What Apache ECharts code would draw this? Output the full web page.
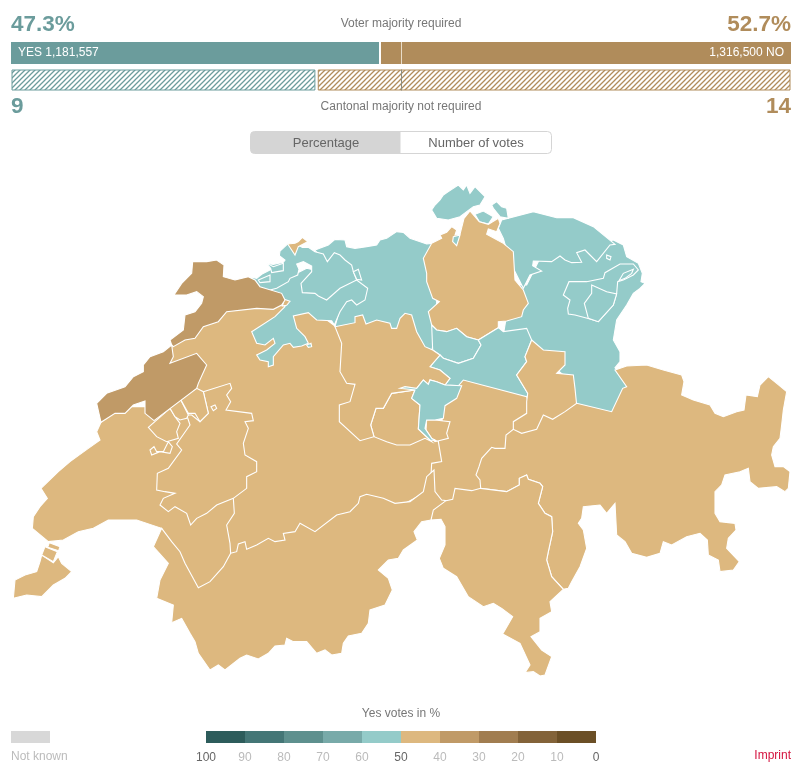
<!DOCTYPE html>
<html>
<head>
<meta charset="utf-8">
<title>Voting result</title>
<script src="https://cdn.jsdelivr.net/npm/echarts@6/dist/echarts.min.js"></script>
<style>
html, body { margin: 0; padding: 0; background: #fff; }
#chart { width: 802px; height: 777px; }
</style>
</head>
<body>
<div id="chart"></div>
<script>
// results
var yesVotes = 1181557;
var noVotes = 1316500;
var yesCantons = 9;
var noCantons = 14;
var yesPercent = '47.3%';
var noPercent = '52.7%';

// yes share per canton, estimated from the colour band
var cantons = ['BE','VD','AG','SG','TG','SH','ZH','ZG','SZ','UR','GL','OW','NW','LU','GR','VS','TI','FR','SO','BL','BS','JU','NE','AR','AI','GE'];
var yesShare = [46,44,54,55,56,53,47,54,55,45,46,47,52,48,45,42,44,45,53,54,47,36,37,54,56,43];

// legend bands, from 100 % to 0 %
var scaleTicks = [100,90,80,70,60,50,40,30,20,10,0];
var scaleColors = ['#2d5c5b','#447676','#5e908e','#78aaa9','#94cbc9','#ddb87f','#c09a67','#a17d50','#836339','#6b4f26'];

// outlines, in 3x crop units, each crop with its own origin
function trace(ox, oy, str) {
    return str.trim().split(/\s+/).map(function (p) {
        var xy = p.split(',');
        return [ox + xy[0] / 3, oy + xy[1] / 3];
    });
}
function z3(s) { return trace(240, 175, s); }
function z4(s) { return trace(0, 250, s); }
function z5(s) { return trace(140, 360, s); }
function z6(s) { return trace(430, 360, s); }

// painted in this order, later parts lie over earlier ones and own the shared border
var mapParts = [
    ['BE', 'BE', z4('516,288 690,150 840,165 921,165 1005,228 1059,294 1071,516 1191,564 1311,564 1359,636 1290,720 900,930 690,945 681,900 645,750 588,420 505,330')],
    ['VD', 'VD', z4('303,517 290,545 300,570 265,595 210,635 175,665 123,715 142,745 120,770 100,800 97,835 145,875 190,870 235,845 280,835 325,810 410,810 485,835 600,1040 700,950 692,912 690,880 680,825 703,790 700,745 640,600 590,425 480,470 380,470 320,490')],
    ['AG', 'AG', z3('575,205 560,207 510,190 490,172 470,170 440,190 420,195 410,210 380,215 345,220 320,215 315,195 285,193 265,210 225,225 280,300 300,400 285,455 330,470 480,480 575,530 590,450 590,300 590,210')],
    ['SG', 'SG', z3('1120,195 1150,210 1160,245 1195,265 1207,295 1203,320 1215,325 1200,340 1180,355 1160,390 1130,435 1120,495 1140,530 1140,560 1125,578 1180,640 1120,740 1000,720 970,600 900,540 850,500 790,480 800,420 830,330 860,330 900,250')],
    ['TG', 'TG', z3('785,135 880,110 950,128 1000,128 1060,155 1125,208 1110,210 1070,260 1050,240 1035,225 1010,233 1025,262 995,263 975,255 960,243 935,260 880,258 878,272 905,288 870,300 850,340 810,260 790,190 775,160')],
    ['TG-loop', 'TG', z3('1100,240 1113,245 1110,255 1100,250')],
    ['SH', 'SH', z3('575,105 585,90 600,75 610,60 625,50 640,40 655,30 670,45 680,30 690,55 705,35 720,50 735,65 720,90 700,95 680,110 660,125 625,135 590,130')],
    ['SH-east', 'SH', z3('755,90 770,80 785,95 800,100 805,130 780,125 760,100')],
    ['SH-lens', 'TG', z3('705,118 730,108 760,125 745,147 718,140')],
    ['ZH', 'ZH', z3('575,205 605,190 600,180 620,172 635,155 650,165 645,180 660,178 672,130 690,108 705,125 718,140 745,148 775,130 780,145 770,170 745,162 740,178 790,205 820,230 825,315 850,345 865,385 850,405 845,425 800,438 775,440 775,458 715,495 680,485 650,460 620,470 590,465 575,450 565,410 598,380 578,370 560,320 560,295 550,250')],
    ['SH-south', 'SH', z3('640,185 660,180 650,212 638,200')],
    ['ZG', 'ZG', z3('575,450 590,465 620,470 650,460 680,485 715,495 723,510 700,550 655,565 610,550 600,540 578,525')],
    ['SZ', 'SZ', z3('600,540 610,550 655,565 700,550 723,510 715,495 775,458 790,470 860,460 875,495 855,545 860,560 830,600 863,655 860,680 805,705 770,670 730,685 677,662 665,632 615,630 630,610 600,585 570,575')],
    ['UR', 'UR', z6('25,245 35,305 5,310 0,400 15,440 60,450 170,400 250,250 280,215 310,170 290,110 100,60 40,130 35,200')],
    ['GL', 'GL', z3('875,495 910,525 975,530 975,570 950,595 1000,600 1005,640 1010,690 1010,740 900,790 820,790 820,765 820,740 860,715 860,680 863,655 830,600 860,560 855,545')],
    ['OW', 'OW', z3('525,645 455,655 430,700 408,700 392,750 402,785 440,800 470,810 510,810 555,790 575,800 535,762 540,690 515,670')],
    ['OW-engelberg', 'OW', z3('560,735 585,735 630,740 620,775 625,790 585,800 575,790 558,765')],
    ['LU', 'LU', z3('285,455 345,443 345,425 368,420 378,447 410,435 450,445 455,460 470,460 480,430 495,415 515,420 530,470 555,515 578,525 600,540 570,575 600,585 630,610 615,630 590,620 570,615 565,628 550,615 530,640 525,645 455,655 430,700 408,700 392,750 402,785 360,797 298,740 298,690 330,680 345,628 320,625 300,590 305,505')],
    ['NW', 'NW', z3('480,640 495,635 530,640 550,615 565,628 570,615 590,620 615,630 665,632 650,670 615,692 610,730 585,735 560,735 555,760 575,790 588,797 570,795 535,762 540,690 515,670 525,645')],
    ['GR', 'GR', z6('440,130 545,155 578,85 590,80 555,30 590,18 650,15 700,30 755,45 762,65 755,105 790,120 840,135 855,160 880,170 920,155 942,150 948,105 982,110 990,75 1015,50 1040,70 1070,95 1060,150 1055,195 1050,235 1030,260 1025,285 1035,320 1060,320 1080,335 1075,385 1065,395 1040,380 985,385 960,365 955,325 930,335 885,345 875,375 855,395 855,460 870,485 915,490 918,510 895,535 890,565 928,605 910,630 870,635 865,600 835,585 832,540 810,520 770,530 725,555 700,545 690,580 650,592 605,580 585,545 560,525 555,430 530,460 510,435 460,440 455,475 445,490 460,510 470,565 450,620 425,665 415,685 400,688 365,650 350,600 355,575 368,515 365,470 345,460 325,430 338,380 330,370 295,358 290,345 268,355 268,375 230,395 152,385 150,360 138,345 147,320 155,295 185,262 195,265 225,265 228,225 250,208 275,220 320,208 340,165 368,178 405,155')],
    ['VS', 'VS', z5('65,505 95,545 120,575 135,610 175,683 210,665 250,620 272,580 290,575 295,552 315,545 320,568 350,555 385,535 405,545 435,540 430,520 465,515 480,490 525,515 590,465 630,455 655,430 660,410 680,403 730,415 765,430 810,425 850,395 860,350 882,330 885,395 905,420 920,422 900,460 873,480 845,485 822,515 832,540 790,570 775,595 745,600 715,630 745,655 757,690 735,735 690,750 685,790 665,820 625,828 610,850 605,880 575,885 555,870 530,880 500,845 460,845 440,835 435,855 405,858 385,880 355,897 320,885 300,895 255,930 235,915 210,930 175,880 165,845 150,820 125,775 95,788 100,735 50,715 60,660 85,610 40,560')],
    ['TI', 'TI', z6('48,422 68,418 75,385 125,392 152,385 230,395 268,375 268,355 290,345 295,358 330,370 338,380 325,430 345,460 365,470 368,515 355,575 350,600 365,650 400,688 360,725 365,755 330,775 330,815 303,830 335,870 365,890 345,945 330,948 310,935 285,938 300,915 270,850 218,822 248,770 215,745 190,730 160,740 115,710 80,650 40,625 28,595 45,555 45,500 33,478 3,480 10,450')],
    ['FR', 'FR', z4('610,425 690,400 695,415 680,435 692,455 678,480 755,490 760,512 735,515 745,535 730,580 735,615 770,635 770,665 740,680 740,715 700,745 650,765 620,790 590,805 572,825 560,790 525,770 505,785 480,765 490,745 525,730 495,725 470,720 472,670 505,655 545,600 530,582 570,525 560,495 575,495 600,515 625,490')],
    ['FR-broye', 'FR', z4('445,532 510,475 525,500 540,520 530,545 535,565 500,575 470,560')],
    ['FR-strip-a', 'FR', z4('510,475 540,445 565,495 560,505 540,510 525,500')],
    ['FR-strip-b', 'FR', z4('540,445 590,415 610,425 625,490 600,515 585,490 565,490')],
    ['FR-enclave-a', 'FR', z4('450,600 462,590 470,605 490,605 505,575 517,590 510,610 480,605 455,615')],
    ['FR-enclave-b', 'FR', z4('633,470 645,465 650,475 640,482')],
    ['SO', 'SO', z3('135,395 105,425 35,470 50,505 75,510 100,490 105,505 80,525 50,540 60,555 85,560 85,575 100,570 100,545 130,510 150,505 160,517 185,513 205,505 195,485 170,460 160,423 205,413 230,435 275,437 283,450 300,410 320,380 335,375 350,390 375,375 383,340 350,315 200,280 120,320 90,350 70,345')],
    ['SO-tiny', 'SO', z3('200,510 213,505 215,515 205,517')],
    ['BE-tip', 'BE', z3('133,373 150,379 140,391 127,393')],
    ['BL', 'BL', z3('225,230 205,217 187,217 175,210 145,205 120,228 118,242 135,255 130,262 100,268 80,265 95,282 65,298 50,310 30,305 60,342 90,345 110,340 145,320 150,310 173,300 177,283 170,267 190,260 215,273 215,290 183,325 187,353 225,355 235,363 260,375 300,340 350,315 340,290 335,270 315,255 300,240 283,233 262,260 250,237')],
    ['SO-dorneck', 'SO', z3('77,263 100,275 130,265 130,287 95,293 92,280')],
    ['SO-kleinluetzel', 'SO', z3('55,315 90,300 90,320 60,323')],
    ['AG-olsberg', 'AG', z3('340,290 355,283 365,315 350,313')],
    ['BS', 'BS', z3('143,207 165,205 175,200 187,187 203,200 190,207 175,215 165,240 155,225')],
    ['JU', 'JU', z4('515,285 510,270 550,240 555,195 585,185 605,160 610,140 590,125 560,135 522,135 545,100 575,70 578,35 620,35 650,30 672,45 670,80 705,90 745,80 765,90 780,110 845,130 855,150 845,165 820,178 770,175 680,185 655,215 610,230 585,265 555,270 520,290')],
    ['NE', 'NE', z4('515,285 520,320 510,340 590,310 620,345 595,400 590,415 462,512 435,490 435,453 400,465 375,490 345,490 303,517 290,460 320,430 375,410 400,380 430,365 430,345 450,320 490,305')],
    ['AR', 'AR', z3('970,360 987,320 1040,320 1090,310 1095,293 1140,267 1180,267 1195,285 1180,300 1150,315 1133,320 1130,355 1120,390 1075,440 1050,432 1005,420 985,417 983,400 990,375')],
    ['AR-rhine', 'AR', z3('1137,317 1150,295 1180,283 1175,295 1155,310')],
    ['AI', 'AI', z3('1055,330 1100,350 1130,357 1120,390 1075,440 1045,430 1033,385 1055,355')],
    ['GE', 'GE', z4('125,915 160,938 175,920 185,940 215,965 195,985 160,1005 125,1040 80,1035 40,1045 45,990 75,975 110,965 120,935')],
    ['VD-box-a', 'VD', z4('148,878 180,890 176,902 143,892')],
    ['VD-box-b', 'VD', z4('135,890 172,905 160,935 125,915')]
];

var features = mapParts.map(function (part) {
    var ring = part[2].concat([part[2][0]]);
    return {
        type: 'Feature',
        properties: { name: part[0] },
        geometry: { type: 'Polygon', coordinates: [ring] }
    };
});
echarts.registerMap('switzerland', { type: 'FeatureCollection', features: features });

var allPoints = [].concat.apply([], mapParts.map(function (part) { return part[2]; }));
var xs = allPoints.map(function (p) { return p[0]; });
var ys = allPoints.map(function (p) { return p[1]; });
var mapLeft = Math.min.apply(null, xs);
var mapTop = Math.min.apply(null, ys);
var mapWidth = Math.max.apply(null, xs) - mapLeft;
var mapHeight = Math.max.apply(null, ys) - mapTop;

var mapData = mapParts.map(function (part) {
    return { name: part[0], value: yesShare[cantons.indexOf(part[1])] };
});

var yesColor = '#6b9c9c';
var noColor = '#b08c5b';
var votesTotal = yesVotes + noVotes;
var cantonsTotal = yesCantons + noCantons;
// small white gap between the two halves of each bar, about 2px
var votesGap = votesTotal * 2 / 780;
var cantonsGap = cantonsTotal * 2.4 / 780;

function hatch(color) {
    var size = 5;
    var c = document.createElement('canvas');
    c.width = size;
    c.height = size;
    var ctx = c.getContext('2d');
    ctx.fillStyle = '#fff';
    ctx.fillRect(0, 0, size, size);
    ctx.strokeStyle = color;
    ctx.lineWidth = 1.3;
    ctx.beginPath();
    ctx.moveTo(-1, size + 1);
    ctx.lineTo(size + 1, -1);
    ctx.moveTo(-1, 1);
    ctx.lineTo(1, -1);
    ctx.moveTo(size - 1, size + 1);
    ctx.lineTo(size + 1, size - 1);
    ctx.stroke();
    return { image: c, repeat: 'repeat' };
}

function bar(index, name, value, color, border, labelText, labelPos, line) {
    return {
        type: 'bar',
        name: name,
        xAxisIndex: index,
        yAxisIndex: index,
        stack: 'bar' + index,
        barWidth: '100%',
        silent: true,
        data: [value],
        itemStyle: { color: color, borderColor: border || 'transparent', borderWidth: border ? 1 : 0 },
        label: {
            show: !!labelText,
            position: labelPos,
            formatter: labelText,
            color: '#fff',
            fontSize: 12,
            distance: 7
        },
        markLine: line ? {
            silent: true,
            symbol: 'none',
            animation: false,
            label: { show: false },
            lineStyle: { color: line, width: 1, type: 'solid' },
            data: [{ xAxis: (index === 0 ? votesTotal + votesGap : cantonsTotal + cantonsGap) / 2 }]
        } : undefined
    };
}

function txt(x, y, text, size, color, align, weight) {
    return {
        type: 'text',
        x: x,
        y: y,
        silent: true,
        style: {
            text: text,
            fontSize: size,
            fontFamily: 'Liberation Sans',
            fontWeight: weight || 'normal',
            fill: color,
            align: align || 'left',
            verticalAlign: 'middle'
        }
    };
}

var scaleSeries = scaleColors.slice().reverse().map(function (color) {
    return {
        type: 'bar',
        xAxisIndex: 2,
        yAxisIndex: 2,
        stack: 'scale',
        barWidth: '100%',
        silent: true,
        data: [10],
        itemStyle: { color: color }
    };
});

var chart = echarts.init(document.getElementById('chart'), null, { renderer: 'canvas' });
chart.setOption({
    animation: false,
    textStyle: { fontFamily: 'Liberation Sans' },
    grid: [
        { left: 11, width: 780, top: 42, height: 22 },
        { left: 11.5, width: 779, top: 69.5, height: 21 },
        { left: 206, width: 390, top: 731, height: 12 }
    ],
    xAxis: [
        { gridIndex: 0, type: 'value', min: 0, max: votesTotal + votesGap, show: false },
        { gridIndex: 1, type: 'value', min: 0, max: cantonsTotal + cantonsGap, show: false },
        {
            gridIndex: 2,
            type: 'value',
            inverse: true,
            min: 0,
            max: 100,
            interval: 10,
            splitLine: { show: false },
            axisLine: { show: false },
            axisTick: { show: false },
            axisLabel: {
                margin: 9,
                fontSize: 12,
                showMinLabel: true,
                showMaxLabel: true,
                color: function (value) {
                    return value % 50 === 0 ? '#666' : '#bbb';
                }
            }
        }
    ],
    yAxis: [
        { gridIndex: 0, type: 'category', data: ['votes'], show: false },
        { gridIndex: 1, type: 'category', data: ['cantons'], show: false },
        { gridIndex: 2, type: 'category', data: ['scale'], show: false }
    ],
    visualMap: {
        show: false,
        seriesIndex: 0,
        type: 'piecewise',
        pieces: scaleColors.map(function (color, i) {
            return { min: scaleTicks[i + 1], max: scaleTicks[i], color: color };
        })
    },
    series: [
        {
            type: 'map',
            map: 'switzerland',
            projection: {
                project: function (p) { return p; },
                unproject: function (p) { return p; }
            },
            left: mapLeft,
            top: mapTop,
            width: mapWidth,
            height: mapHeight,
            roam: false,
            silent: true,
            selectedMode: false,
            label: { show: false },
            emphasis: { disabled: true },
            itemStyle: { borderColor: '#fff', borderWidth: 1.1 },
            data: mapData
        },
        bar(0, 'yes', yesVotes, yesColor, null, 'YES ' + yesVotes.toLocaleString('en-US'), 'insideLeft'),
        bar(0, 'gap', votesGap, 'transparent'),
        bar(0, 'no', noVotes, noColor, null, noVotes.toLocaleString('en-US') + ' NO', 'insideRight', '#e9dcc8'),
        bar(1, 'yes', yesCantons, hatch(yesColor), yesColor),
        bar(1, 'gap', cantonsGap, 'transparent'),
        bar(1, 'no', noCantons, hatch(noColor), noColor, null, null, '#8c8c80')
    ].concat(scaleSeries),
    graphic: [
        txt(11, 25, yesPercent, 22.5, yesColor, 'left', 'bold'),
        txt(791, 25, noPercent, 22.5, noColor, 'right', 'bold'),
        txt(401, 24, 'Voter majority required', 12, '#777', 'center'),
        txt(11, 107, String(yesCantons), 22.5, yesColor, 'left', 'bold'),
        txt(791, 107, String(noCantons), 22.5, noColor, 'right', 'bold'),
        txt(401, 107, 'Cantonal majority not required', 12, '#777', 'center'),
        {
            type: 'rect',
            silent: true,
            shape: { x: 250.5, y: 131.5, width: 301, height: 22, r: 4 },
            style: { fill: '#fff', stroke: '#d5d5d5', lineWidth: 1 }
        },
        {
            type: 'rect',
            silent: true,
            shape: { x: 250.5, y: 131.5, width: 150, height: 22, r: [4, 0, 0, 4] },
            style: { fill: '#d5d5d5' }
        },
        txt(326, 143, 'Percentage', 13, '#666', 'center'),
        txt(476, 143, 'Number of votes', 13, '#666', 'center'),
        txt(401, 714, 'Yes votes in %', 12, '#777', 'center'),
        {
            type: 'rect',
            silent: true,
            shape: { x: 11, y: 731, width: 39, height: 12 },
            style: { fill: '#d8d8d8' }
        },
        txt(11, 757, 'Not known', 12, '#bbb'),
        txt(791, 756, 'Imprint', 12, '#d4143f', 'right')
    ]
});
</script>
</body>
</html>
